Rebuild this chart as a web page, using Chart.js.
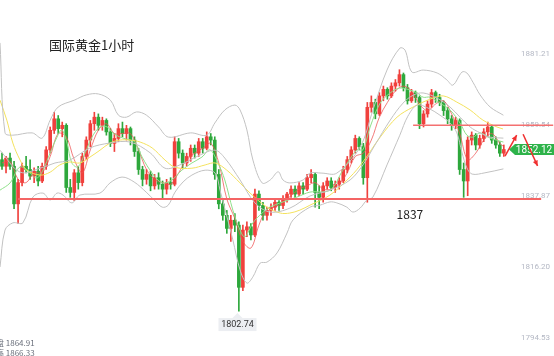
<!DOCTYPE html>
<html><head><meta charset="utf-8">
<script src="https://cdn.jsdelivr.net/npm/chart.js@4/dist/chart.umd.min.js"></script>
<style>html,body{margin:0;padding:0;background:#fff;overflow:hidden}#wrap{width:554px;height:356px;position:relative}</style>
</head><body><div id="wrap"><canvas id="c" width="554" height="356"></canvas></div>
<script>
const title = '国际黄金1小时';
const yTicks = [1794.53, 1816.20, 1837.87, 1859.54, 1881.21];
const supportLevel = 1837;
const resistanceLevel = 1859.54;
const lastPrice = 1852.12;
const lowestPrice = 1802.74;
const infoLines = [['盘', '1864.91'], ['高', '1866.33']];

const openP = [1849,1847,1849.5,1847,1835.5,1842,1847,1846,1844,1845.5,
 1842.5,1847,1852,1858,1861.5,1858.5,1859.5,1840.5,1839,1845,
 1842,1850,1855,1860,1862,1859.5,1861,1857.5,1854,1855.5,
 1858.5,1857,1858.5,1855,1851.5,1846,1843,1844.5,1841,1843.5,
 1841.5,1840,1842,1841.5,1854.5,1851,1848,1850,1852.5,1851,
 1854.5,1852.5,1856,1855,1844.5,1835.5,1832,1828,1830.5,1829,
 1810,1827.5,1828.5,1826,1838.5,1835,1832,1833.5,1834.5,1836,
 1835,1837,1838.5,1840,1838.5,1841,1840,1843.5,1844.5,1839,
 1837.5,1841,1842.5,1840.5,1841.5,1842.5,1846,1849,1852,1855.5,
 1853,1843.5,1865,1866.5,1863,1868.5,1870.5,1868.5,1871.5,1872.5,
 1875,1871,1867,1869.5,1868,1860,1863,1866,1869.5,1868,
 1866.5,1864,1861.5,1859.5,1861,1846,1842.5,1855,1856.5,1853.5,
 1855.5,1857.5,1859,1855,1853.5,1851];
const closeP = [1847,1849.5,1847,1835.5,1842,1847,1846,1844,1845.5,1842.5,
 1847,1852,1858,1861.5,1858.5,1859.5,1840.5,1839,1845,1842,
 1850,1855,1860,1862,1859.5,1861,1857.5,1854,1855.5,1858.5,
 1857,1858.5,1855,1851.5,1846,1843,1844.5,1841,1843.5,1841.5,
 1840,1842,1841.5,1854.5,1851,1848,1850,1852.5,1851,1854.5,
 1852.5,1856,1855,1844.5,1835.5,1832,1828,1830.5,1829,1810,
 1827.5,1828.5,1826,1838.5,1835,1832,1833.5,1834.5,1836,1835,
 1837,1838.5,1840,1838.5,1841,1840,1843.5,1844.5,1839,1837.5,
 1841,1842.5,1840.5,1841.5,1842.5,1846,1849,1852,1855.5,1853,
 1843.5,1865,1866.5,1863,1868.5,1870.5,1868.5,1871.5,1872.5,1875,
 1871,1867,1869.5,1868,1860,1863,1866,1869.5,1868,1866.5,
 1864,1861.5,1859.5,1861,1846,1842.5,1855,1856.5,1853.5,1855.5,
 1857.5,1859,1855,1853.5,1851,1852.12];
const highP = [1851,1850,1851,1848.5,1843,1848,1850,1849,1846.5,1847,
 1848,1853,1859,1863.5,1862.5,1860.5,1860,1843,1846,1847,
 1851,1856,1861,1863.5,1863,1862,1861.5,1858.5,1857,1860,
 1860.5,1859.5,1859,1856,1852.5,1847,1846,1845.5,1844.5,1845,
 1842.5,1843,1843.5,1856,1855.5,1852,1851,1853.5,1853.5,1855.5,
 1855.5,1857.5,1857,1856,1846,1837,1833.5,1832,1832.5,1830,
 1829,1830,1829.5,1840,1839.5,1836,1834.5,1835.5,1837,1836.5,
 1838,1839,1841,1841,1842,1842,1844.5,1846,1845,1841,
 1842,1843.5,1843.5,1842.5,1843.5,1847,1850,1853,1856.5,1856,
 1854,1866.5,1868.5,1867.5,1869.5,1871.5,1871,1872.5,1873.5,1876.5,
 1875.5,1872,1870.5,1870,1868.5,1864,1867,1870.5,1870,1869,
 1867,1865,1862.5,1862,1861.5,1848,1856,1857.5,1857,1856.5,
 1858.5,1860.5,1859.5,1856,1854.5,1853.5];
const lowP = [1846,1845,1846,1834,1829.5,1841,1845,1843,1842,1841,
 1842,1846,1851,1857,1857,1856,1839,1837.5,1836.5,1840,
 1841,1849,1853,1858,1858,1858,1856.5,1853,1851.5,1854.5,
 1856,1855,1853.5,1850,1844.5,1841,1841.5,1839.5,1840,1840,
 1837,1838.5,1840,1841,1849.5,1846.5,1847,1848.5,1849.5,1850,
 1851,1852,1853.5,1843,1834,1830.5,1826.5,1824,1827,1802.74,
 1809,1825.5,1824.5,1825.5,1833.5,1830.5,1830.5,1832,1833.5,1833.5,
 1834,1836,1837.5,1837.5,1838,1838.5,1839.5,1842,1834.5,1834,
 1836,1840,1839.5,1839,1840,1842,1845,1848,1851,1852,
 1841.5,1836,1863.5,1861.5,1862.5,1867,1867.5,1868,1870,1871.5,
 1870,1866,1866.5,1866.5,1858.5,1859,1862,1865,1866.5,1865.5,
 1862.5,1860,1858,1858.5,1844.5,1837.5,1838,1853.5,1852,1852.5,
 1854.5,1856,1854,1852.5,1850,1850];

// indicator lines: [candle index, price]
const bollUpper = [[-0.5,1884.7],[0.75,1857.2],[2.7,1856.5],[7.5,1857.2],[10,1855.6],[12,1861.1],[14,1865.1],[18,1867.2],[21,1868.8],[24,1869.1],[27,1867.2],[29,1862.6],[31,1862.0],[33.5,1863.6],[36,1862.6],[39,1859.0],[41.5,1855.9],[47,1857.2],[51,1856.5],[53,1860.2],[55.5,1864.2],[58,1865.7],[59.3,1864.2],[61,1858.1],[62.5,1848.9],[64.8,1841.9],[66.8,1842.8],[68.8,1845.3],[70,1842.8],[71.7,1841.9],[75,1842.8],[76.7,1844.9],[79.7,1844.9],[83.4,1844.9],[89.2,1852.9],[92.4,1864.2],[95.9,1876.4],[99.1,1883.1],[100.4,1882.5],[102.1,1875.8],[104.9,1876.4],[108.4,1875.5],[110.8,1873.4],[112.3,1871.8],[114.6,1875.8],[115.8,1875.5],[117.3,1872.7],[119.1,1868.8],[121.6,1865.1],[124.9,1862.6]];
const bollMid = [[-0.5,1851.9],[4.5,1845.2],[9.5,1846.4],[13.2,1848.0],[16.9,1848.9],[21.9,1852.6],[26.9,1854.1],[31.9,1854.4],[36.9,1851.1],[40.6,1846.4],[44.3,1847.4],[49.3,1850.4],[53.1,1851.9],[55.5,1849.5],[59.3,1842.8],[63,1835.8],[66.8,1833.0],[71.7,1834.2],[76.7,1837.9],[81.7,1839.7],[86.7,1842.8],[89.9,1847.4],[92.9,1853.5],[96.7,1861.1],[99.9,1866.3],[102.4,1868.7],[104.9,1869.4],[108.4,1867.8],[111.6,1865.1],[114.1,1862.0],[116.6,1859.0],[119.1,1857.2],[121.6,1855.9],[124.9,1855.6]];
const bollLower = [[-0.5,1816.2],[0.75,1827.5],[2.7,1829.7],[5.2,1829.7],[7.7,1837.6],[10.2,1838.8],[12,1836.7],[13.7,1838.8],[15.2,1838.2],[17.4,1835.8],[19.4,1838.2],[24.4,1838.8],[26.9,1841.9],[29.9,1843.7],[32.9,1842.2],[35.9,1839.1],[37.9,1836.7],[39.9,1834.5],[41.4,1835.1],[43.1,1839.1],[45.1,1842.2],[47.3,1844.3],[50.6,1845.8],[53.1,1844.9],[54.3,1839.7],[57.5,1824.5],[59.3,1815.3],[61,1811.3],[62.5,1813.2],[64.3,1817.4],[66,1817.7],[68.5,1820.5],[71,1826.6],[72.5,1830.6],[76.7,1834.5],[79.2,1835.1],[81.7,1836.1],[83.4,1835.8],[85.9,1834.5],[87.4,1833.0],[89.2,1834.2],[90.9,1836.7],[92.4,1837.6],[95.9,1847.4],[99.1,1856.5],[101.1,1862.3],[103.4,1865.7],[106.1,1864.8],[109.1,1862.6],[111.6,1860.2],[113.3,1857.2],[114.6,1851.1],[115.8,1846.5],[117.1,1844.6],[120.3,1845.0],[124.9,1846.2]];
const maYellow = [[-0.5,1867.2],[1.2,1861.1],[2.7,1854.1],[4.5,1848.9],[6.2,1845.8],[9.5,1844.3],[12,1845.2],[14.4,1847.4],[16.9,1848.3],[19.4,1848.0],[21.9,1849.8],[24.4,1851.9],[26.9,1854.1],[29.4,1855.0],[31.9,1855.0],[34.4,1854.4],[37.4,1852.6],[40.6,1848.9],[43.1,1846.7],[47.3,1846.4],[50.6,1847.4],[53.1,1848.0],[56,1845.8],[59.3,1841.9],[61.8,1838.8],[66,1834.5],[69.3,1832.7],[71.7,1832.7],[74.2,1833.6],[76.7,1835.1],[81.7,1838.2],[86.7,1843.7],[89.9,1848.3],[94.2,1855.9],[98.4,1862.0],[102.4,1865.1],[106.6,1867.5],[109.9,1868.5],[113.3,1866.6],[116.6,1864.2],[119.8,1861.1],[123.3,1859.0],[124.8,1858.4]];
const maGreen = [[-0.5,1839.7],[2,1841.9],[4.5,1846.8],[7,1844.9],[8.7,1843.4],[10.2,1845.8],[12,1851.1],[13.7,1855.9],[14.9,1858.1],[16.2,1854.1],[17.4,1848.0],[18.9,1846.8],[20.7,1851.1],[22.4,1855.9],[24.4,1859.0],[26.2,1859.0],[27.6,1857.2],[29.4,1855.9],[31.9,1855.0],[33.1,1854.4],[34.9,1849.8],[37.4,1844.9],[39.9,1841.9],[42.3,1842.8],[44.8,1845.8],[47.3,1848.0],[49.8,1849.8],[51.8,1852.0],[53.8,1848.0],[55.5,1842.8],[57.5,1833.6],[59.3,1827.5],[60.5,1825.4],[62.5,1829.7],[64.8,1832.7],[66.8,1834.5],[70,1836.1],[73.5,1837.6],[76.7,1839.1],[81.7,1839.7],[84.9,1845.8],[88.4,1852.0],[89.9,1852.0],[91.7,1859.0],[94.2,1866.3],[96.7,1869.4],[99.1,1870.9],[101.6,1870.3],[103.4,1869.4],[104.9,1868.1],[106.6,1868.1],[109.1,1866.3],[111.6,1864.2],[114.1,1860.2],[115.8,1856.5],[117.3,1855.9],[119.1,1857.2],[121.6,1855.6],[124.9,1854.4]];
const maRed = [[0,1848],[2,1848.5],[4,1843],[6,1842],[8,1845],[10,1845],[12,1850],[14,1857],[16,1856],[18,1849],[20,1845],[22,1852],[24,1858],[26,1860],[28,1857],[30,1857],[32,1857],[34,1852],[36,1846],[38,1843],[40,1842],[42,1841.5],[44,1845],[46,1849],[48,1851],[50,1852.5],[52,1854],[54,1848],[56,1837],[58,1831],[60,1824],[62,1822],[64,1829],[66,1834],[68,1834.5],[70,1836],[72,1838],[74,1840],[76,1841],[78,1842],[80,1840],[82,1840],[84,1841.5],[86,1845],[88,1850],[90,1851],[92,1855],[94,1862],[96,1866.5],[98,1870],[100,1871.5],[102,1870],[104,1866],[106,1864],[108,1866],[110,1867],[112,1863],[114,1857],[116,1849],[118,1851],[120,1855],[122,1857],[124,1854],[125,1853]];
const supportSpan = [3.98, 134.3];
const resistanceSpan = [102.4, 137.3];

const totalSlots = 138;
const categories = Array.from({length: totalSlots}, (_, i) => 'H' + i);

const UP = '#f0413d', DOWN = '#2ea83c';
const isUp = closeP.map((c, i) => c >= openP[i]);
const candleColors = isUp.map(u => u ? UP : DOWN);
const pts = arr => arr.map(p => ({x: p[0], y: p[1]}));
const lineDs = (data, color, w, order) => ({
  type: 'line', xAxisID: 'x2', data: pts(data), borderColor: color, borderWidth: w,
  pointRadius: 0, tension: 0.35, fill: false, order
});

const drawArrow = (ctx, x1, y1, x2, y2) => {
  const a = Math.atan2(y2 - y1, x2 - x1), h = 6;
  ctx.beginPath(); ctx.moveTo(x1, y1); ctx.lineTo(x2, y2); ctx.stroke();
  ctx.beginPath(); ctx.moveTo(x2, y2);
  ctx.lineTo(x2 - h * Math.cos(a - 0.45), y2 - h * Math.sin(a - 0.45));
  ctx.lineTo(x2 - h * Math.cos(a + 0.45), y2 - h * Math.sin(a + 0.45));
  ctx.closePath(); ctx.fill();
};

const overlay = {
  id: 'overlay',
  afterDraw(chart) {
    const {ctx} = chart; const xs = chart.scales.x2, ys = chart.scales.y, xc = chart.scales.x;
    ctx.save();
    ctx.fillStyle = '#222'; ctx.textBaseline = 'middle'; ctx.textAlign = 'left';
    ctx.font = '13px "Noto Sans CJK SC", sans-serif';
    ctx.fillText(title, 49, 45);
    ctx.textAlign = 'center';
    ctx.font = '12px "Noto Sans CJK SC", sans-serif';
    ctx.fillText(String(supportLevel), xs.getPixelForValue(101.6), ys.getPixelForValue(supportLevel) + 15);
    // lowest callout
    const li = lowP.indexOf(lowestPrice);
    const lx = Math.round(xc.getPixelForValue(li)) - 1.5, ly = ys.getPixelForValue(lowestPrice);
    const top = ly + 7, bw = 38, bh = 13;
    ctx.fillStyle = '#eceef2';
    ctx.beginPath(); ctx.moveTo(lx, ly + 2); ctx.lineTo(lx + 5, top); ctx.lineTo(lx - 5, top); ctx.closePath(); ctx.fill();
    ctx.fillRect(lx - bw / 2, top, bw, bh);
    ctx.fillStyle = '#333'; ctx.font = '9px Roboto, sans-serif';
    ctx.fillText(lowestPrice.toFixed(2), lx, top + bh / 2 + 0.5);
    // price tag
    const py = ys.getPixelForValue(lastPrice);
    ctx.fillStyle = '#2eb34a';
    ctx.beginPath(); ctx.moveTo(509, py); ctx.lineTo(515, py - 5.5); ctx.lineTo(554, py - 5.5); ctx.lineTo(554, py + 5.5); ctx.lineTo(515, py + 5.5); ctx.closePath(); ctx.fill();
    ctx.fillStyle = '#fff'; ctx.font = '10px Roboto, sans-serif';
    ctx.fillText(lastPrice.toFixed(2), 534, py + 0.5);
    // arrows
    ctx.strokeStyle = '#f03030'; ctx.fillStyle = '#f03030'; ctx.lineWidth = 1.5;
    drawArrow(ctx, xs.getPixelForValue(125.3), ys.getPixelForValue(1850.1), xs.getPixelForValue(128.2), ys.getPixelForValue(1856.5));
    drawArrow(ctx, xs.getPixelForValue(129.8), ys.getPixelForValue(1856.8), xs.getPixelForValue(133.4), ys.getPixelForValue(1847.1));
    // info lines bottom-left
    ctx.textAlign = 'left'; ctx.fillStyle = '#6a6f7b'; ctx.font = '8px "Noto Sans CJK SC", sans-serif';
    infoLines.forEach((l, k) => ctx.fillText(l[0] + ' ' + l[1], -4, 343 + k * 10));
    ctx.restore();
  }
};

new Chart(document.getElementById('c'), {
  type: 'bar',
  data: {
    labels: categories,
    datasets: [
      {label: 'wick', data: highP.map((h, i) => [lowP[i], h]), backgroundColor: candleColors, barThickness: 1, grouped: false, order: 3},
      {label: 'body', data: openP.map((o, i) => [Math.min(o, closeP[i]), Math.max(o, closeP[i])]), backgroundColor: candleColors, barThickness: 3, minBarLength: 1, grouped: false, order: 3},
      lineDs(bollUpper, '#c2c2c2', 1, 2),
      lineDs(bollMid, '#c2c2c2', 1, 2),
      lineDs(bollLower, '#c2c2c2', 1, 2),
      lineDs(maYellow, '#f4e25e', 1, 2),
      lineDs(maGreen, '#8fe08a', 1, 2),
      lineDs(maRed, 'rgba(238,80,80,0.75)', 1, 2),
      {type: 'line', xAxisID: 'x2', data: supportSpan.map(v => ({x: v, y: supportLevel})), borderColor: '#f46464', borderWidth: 2, pointRadius: 0, order: 1},
      {type: 'line', xAxisID: 'x2', data: resistanceSpan.map(v => ({x: v, y: resistanceLevel})), borderColor: '#f47070', borderWidth: 1.5, pointRadius: 0, order: 1}
    ]
  },
  options: {
    responsive: false, animation: false, devicePixelRatio: 1,
    layout: {padding: 0},
    plugins: {legend: {display: false}, tooltip: {enabled: false}},
    scales: {
      x: {display: false, offset: true},
      x2: {type: 'linear', display: false, offset: false, min: -0.5, max: totalSlots - 0.5},
      y: {
        position: 'right', min: 1789.01, max: 1897.81,
        grid: {display: false, drawTicks: false}, border: {display: false},
        afterBuildTicks: s => { s.ticks = yTicks.map(v => ({value: v})); },
        afterFit: s => { s.paddingTop = 0; s.paddingBottom = 0; s.width = 0; },
        ticks: {mirror: true, padding: -4, color: '#b4b8c4', font: {family: 'Roboto', size: 8},
          callback: v => Number(v).toFixed(2)}
      }
    }
  },
  plugins: [overlay]
});
</script></body></html>
